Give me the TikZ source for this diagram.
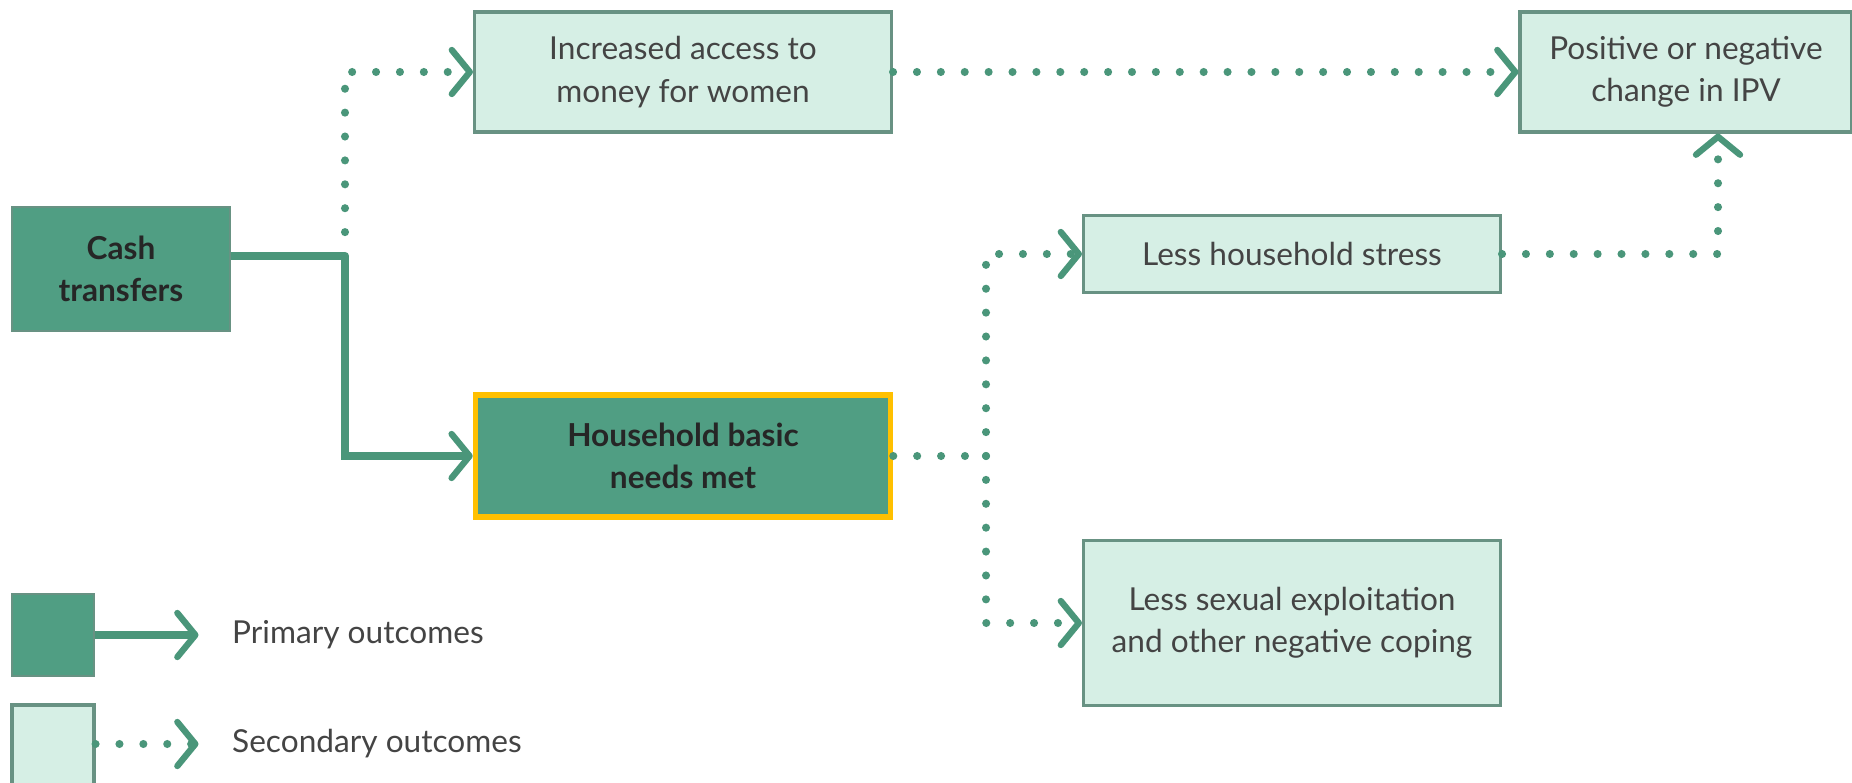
\documentclass[tikz,border=0pt]{standalone}
\usepackage{fontspec}
\setmainfont{Lato}
\usetikzlibrary{arrows.meta}

\definecolor{primgreen}{RGB}{80,158,131}
\definecolor{secgreen}{RGB}{214,239,229}
\definecolor{boxedge}{RGB}{104,146,131}
\definecolor{linkgreen}{RGB}{74,150,122}
\definecolor{hiyellow}{RGB}{255,192,0}
\definecolor{txtgray}{RGB}{68,68,68}

\tikzset{
  outtext/.style={font=\fontsize{18}{24}\selectfont, align=center},
  primbox/.style={outtext, draw=boxedge, fill=primgreen, line width=1.6pt,
    text=black!85, font=\fontsize{18}{24}\selectfont\bfseries},
  secbox/.style={outtext, draw=boxedge, fill=secgreen, line width=1.8pt,
    text=txtgray, minimum width=8.34cm},
  chev/.style={-{Straight Barb[length=0.36cm,width=0.88cm,line width=3.6pt,round]}},
  solidlink/.style={draw=linkgreen, line width=4pt, chev},
  dotlink/.style={draw=linkgreen, line width=4.6pt, line cap=round,
    dash pattern=on 0pt off 13.6pt, chev},
}

\begin{document}
\begin{tikzpicture}[x=0.02cm,y=-0.02cm]
  \useasboundingbox (0,0) rectangle (1852,783);
  % outcome boxes
  \node[primbox, minimum width=4.36cm, minimum height=2.48cm] (cash) at (121,269) {Cash\\transfers};
  \node[secbox, minimum height=2.4cm] (access) at (683,72) {Increased access to\\money for women};
  \node[secbox, minimum width=6.64cm, minimum height=2.4cm] (ipv) at (1686,72) {Positive or negative\\change in IPV};
  \node[secbox, minimum height=1.54cm] (stress) at (1292,254) {Less household stress};
  \node[primbox, draw=hiyellow, line width=3.2pt, minimum width=8.3cm, minimum height=2.44cm] (basic) at (683,456) {Household basic\\needs met};
  \node[secbox, minimum height=3.3cm] (exploit) at (1292,623) {Less sexual exploitation\\and other negative coping};
  % junctions
  \coordinate (split) at (345,256);
  \coordinate (fork) at (986,456);
  \coordinate (riser) at (1718,254);
  % links
  \draw[solidlink, arrows=-] (cash.east |- split) -- (split);
  \draw[solidlink] (split) -- (split |- basic.west) -- (basic.west);
  \draw[dotlink] (split) -- (split |- access.west) -- (access.west);
  \draw[dotlink] (access.east) -- (ipv.west);
  \draw[dotlink, arrows=-] (basic.east) -- (fork);
  \draw[dotlink] (fork) -- (fork |- stress.west) -- (stress.west);
  \draw[dotlink] (fork) -- (fork |- exploit.west) -- (exploit.west);
  \draw[dotlink] (stress.east) -- (riser) -- (riser |- ipv.south);
  % legend
  \node[primbox, minimum width=1.64cm, minimum height=1.64cm] (legprim) at (53,635) {};
  \node[secbox, minimum width=1.64cm, minimum height=1.8cm] (legsec) at (53,750) {};
  \node[outtext, text=txtgray, anchor=west] (legprimtxt) at (226,635) {Primary outcomes};
  \node[outtext, text=txtgray, anchor=west] (legsectxt) at (226,744) {Secondary outcomes};
  \draw[solidlink, shorten >=0.55cm] (legprim.east) -- (legprimtxt.west);
  \draw[dotlink, shorten >=0.55cm] (legsec.east |- legsectxt) -- (legsectxt.west);
\end{tikzpicture}
\end{document}
